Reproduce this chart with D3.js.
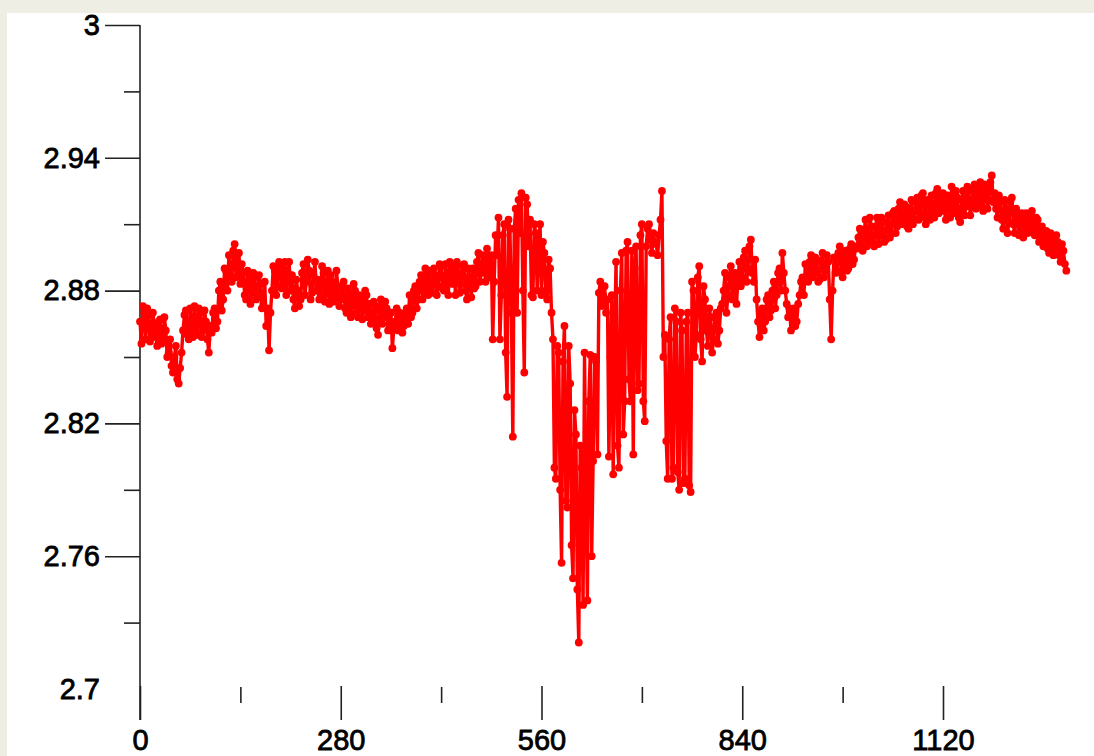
<!DOCTYPE html>
<html>
<head>
<meta charset="utf-8">
<script src="https://cdn.jsdelivr.net/npm/d3@7"></script>
<style>
  html, body { margin: 0; padding: 0; background: #efeee4; }
  svg { display: block; }
  .tick text { font-family: "Liberation Sans", Arial, sans-serif; font-size: 29px; fill: #000; stroke: #000; stroke-width: 0.8px; }
  .tick line { stroke: #222; stroke-width: 1.6px; }
</style>
</head>
<body>
<svg id="chart" width="1094" height="756"></svg>
<script>
// samples fall every 2 data units: evenSamples at x = 0, 4, 8 ... and
// oddSamples at x = 2, 6, 10 ... both
const sampleStep = 4;

const evenSamples = [
  2.866, 2.873, 2.858, 2.869, 2.861, 2.864, 2.855, 2.867, 2.858, 2.862,
  2.852, 2.846, 2.850, 2.840, 2.845, 2.862, 2.871, 2.858, 2.866, 2.873,
  2.860, 2.870, 2.862, 2.866, 2.852, 2.861, 2.872, 2.866, 2.884, 2.876,
  2.889, 2.896, 2.884, 2.901, 2.890, 2.883, 2.888, 2.876, 2.885, 2.879,
  2.886, 2.878, 2.883, 2.874, 2.864, 2.853, 2.880, 2.889, 2.882, 2.891,
  2.884, 2.878, 2.893, 2.887, 2.872, 2.880, 2.876, 2.892, 2.884, 2.889,
  2.879, 2.893, 2.885, 2.878, 2.888, 2.880, 2.874, 2.884, 2.877, 2.882,
  2.876, 2.884, 2.870, 2.879, 2.873, 2.880, 2.868, 2.877, 2.871, 2.878,
  2.874, 2.866, 2.871, 2.860, 2.876, 2.868, 2.872, 2.864, 2.854, 2.866,
  2.862, 2.869, 2.864, 2.872, 2.878, 2.870, 2.882, 2.876, 2.887, 2.880,
  2.884, 2.889, 2.879, 2.887, 2.882, 2.891, 2.880, 2.886, 2.893, 2.883,
  2.878, 2.888, 2.883, 2.892, 2.876, 2.885, 2.890, 2.882, 2.897, 2.888,
  2.892, 2.899, 2.886, 2.858, 2.905, 2.913, 2.878, 2.910, 2.832, 2.908,
  2.814, 2.917, 2.921, 2.924, 2.843, 2.919, 2.912, 2.877, 2.906, 2.900,
  2.878, 2.897, 2.876, 2.890, 2.858, 2.795, 2.852, 2.757, 2.864, 2.782,
  2.838, 2.750, 2.815, 2.721, 2.800, 2.852, 2.740, 2.851, 2.803, 2.848,
  2.879, 2.873, 2.882, 2.876, 2.850, 2.797, 2.893, 2.800, 2.897, 2.830,
  2.902, 2.830, 2.806, 2.900, 2.838, 2.910, 2.821, 2.908, 2.903, 2.906,
  2.901, 2.905, 2.925, 2.860, 2.795, 2.868, 2.800, 2.866, 2.790, 2.862,
  2.795, 2.870, 2.789, 2.880, 2.860, 2.891, 2.848, 2.876, 2.855, 2.868,
  2.858, 2.870, 2.862, 2.874, 2.888, 2.878, 2.891, 2.882, 2.874, 2.893,
  2.886, 2.898, 2.890, 2.903, 2.884, 2.876, 2.859, 2.872, 2.866, 2.878,
  2.871, 2.884, 2.878, 2.890, 2.897, 2.880, 2.868, 2.862, 2.872, 2.866,
  2.878, 2.886, 2.892, 2.884, 2.896, 2.888, 2.894, 2.885, 2.897, 2.889,
  2.893, 2.858, 2.895, 2.889, 2.900, 2.886, 2.898, 2.890, 2.901, 2.894,
  2.899, 2.908, 2.898, 2.912, 2.903, 2.909, 2.900, 2.913, 2.905, 2.911,
  2.903, 2.914, 2.906, 2.916, 2.909, 2.920, 2.911, 2.918, 2.908, 2.921,
  2.912, 2.922, 2.915, 2.924, 2.910, 2.919, 2.923, 2.913, 2.926, 2.917,
  2.924, 2.912, 2.920, 2.927, 2.915, 2.922, 2.911, 2.925, 2.918, 2.926,
  2.918, 2.928, 2.920, 2.929, 2.916, 2.926, 2.921, 2.932, 2.924, 2.913,
  2.920, 2.908, 2.917, 2.911, 2.922, 2.906, 2.914, 2.909, 2.904, 2.915,
  2.908, 2.916, 2.905, 2.912, 2.903, 2.900, 2.907, 2.897, 2.904, 2.899,
  2.902, 2.893, 2.898, 2.889
];

const oddSamples = [
  2.856, 2.870, 2.872, 2.857, 2.870, 2.859, 2.866, 2.856, 2.868, 2.850,
  2.858, 2.843, 2.855, 2.838, 2.852, 2.869, 2.860, 2.872, 2.859, 2.864,
  2.872, 2.859, 2.871, 2.858, 2.864, 2.870, 2.863, 2.880, 2.871, 2.890,
  2.880, 2.887, 2.898, 2.886, 2.897, 2.892, 2.878, 2.889, 2.874, 2.888,
  2.876, 2.887, 2.872, 2.884, 2.872, 2.870, 2.891, 2.878, 2.893, 2.881,
  2.893, 2.888, 2.880, 2.876, 2.885, 2.873, 2.888, 2.878, 2.894, 2.876,
  2.887, 2.880, 2.876, 2.891, 2.875, 2.889, 2.887, 2.875, 2.889, 2.873,
  2.882, 2.872, 2.881, 2.868, 2.883, 2.870, 2.878, 2.867, 2.880, 2.868,
  2.865, 2.875, 2.863, 2.873, 2.865, 2.875, 2.862, 2.870, 2.863, 2.872,
  2.870, 2.861, 2.870, 2.865, 2.868, 2.880, 2.872, 2.884, 2.876, 2.890,
  2.878, 2.882, 2.890, 2.878, 2.892, 2.881, 2.892, 2.878, 2.885, 2.891,
  2.893, 2.879, 2.891, 2.880, 2.890, 2.877, 2.881, 2.893, 2.884, 2.896,
  2.884, 2.890, 2.896, 2.884, 2.896, 2.858, 2.905, 2.852, 2.912, 2.870,
  2.908, 2.870, 2.906, 2.880, 2.922, 2.900, 2.878, 2.910, 2.880, 2.910,
  2.902, 2.880, 2.894, 2.870, 2.800, 2.855, 2.790, 2.848, 2.785, 2.855,
  2.765, 2.826, 2.745, 2.810, 2.738, 2.790, 2.830, 2.760, 2.850, 2.806,
  2.884, 2.878, 2.870, 2.805, 2.878, 2.860, 2.810, 2.880, 2.815, 2.898,
  2.840, 2.898, 2.890, 2.835, 2.905, 2.830, 2.900, 2.910, 2.897, 2.902,
  2.896, 2.912, 2.850, 2.812, 2.858, 2.795, 2.872, 2.798, 2.870, 2.793,
  2.866, 2.792, 2.884, 2.850, 2.886, 2.858, 2.882, 2.862, 2.872, 2.852,
  2.868, 2.856, 2.872, 2.880, 2.870, 2.886, 2.876, 2.888, 2.885, 2.882,
  2.895, 2.884, 2.900, 2.888, 2.894, 2.866, 2.870, 2.862, 2.876, 2.868,
  2.880, 2.872, 2.888, 2.880, 2.888, 2.874, 2.872, 2.868, 2.864, 2.874,
  2.884, 2.878, 2.886, 2.893, 2.886, 2.895, 2.884, 2.893, 2.886, 2.896,
  2.876, 2.880, 2.888, 2.897, 2.888, 2.896, 2.889, 2.899, 2.892, 2.900,
  2.904, 2.900, 2.907, 2.900, 2.913, 2.902, 2.909, 2.901, 2.913, 2.902,
  2.911, 2.904, 2.915, 2.906, 2.917, 2.910, 2.919, 2.909, 2.916, 2.910,
  2.920, 2.912, 2.923, 2.913, 2.921, 2.912, 2.916, 2.924, 2.915, 2.922,
  2.916, 2.923, 2.913, 2.919, 2.925, 2.913, 2.921, 2.914, 2.927, 2.914,
  2.925, 2.917, 2.927, 2.918, 2.928, 2.917, 2.929, 2.920, 2.917, 2.923,
  2.912, 2.921, 2.906, 2.920, 2.910, 2.917, 2.905, 2.915, 2.912, 2.906,
  2.914, 2.906, 2.913, 2.902, 2.909, 2.906, 2.899, 2.906, 2.896, 2.905,
  2.896, 2.901, 2.892
];

const xMajorTicks = [0, 280, 560, 840, 1120];
const xMinorTicks = [140, 420, 700, 980];
const yMajorTicks = [2.7, 2.76, 2.82, 2.88, 2.94, 3];
const yMinorTicks = [2.73, 2.79, 2.85, 2.91, 2.97];

const svg = d3.select('#chart');

// white plotting panel on the page background
svg.append('rect')
  .attr('x', 7).attr('y', 13)
  .attr('width', 1094 - 7).attr('height', 756 - 13)
  .attr('fill', '#ffffff');

const x = d3.scaleLinear().domain([0, 1120]).range([140, 943]);
const y = d3.scaleLinear().domain([2.7, 3]).range([689, 25]);
const axisBottomY = 720;

// y axis
const yAxis = svg.append('g')
  .attr('transform', 'translate(140,0)')
  .call(d3.axisLeft(y).tickValues(yMajorTicks).tickSize(35).tickPadding(5).tickFormat(d3.format('~g')));
yAxis.select('.domain').remove();
yAxis.selectAll('.tick').filter((d) => d === 2.7).select('line').remove();

svg.append('g')
  .attr('transform', 'translate(140,0)')
  .call(d3.axisLeft(y).tickValues(yMinorTicks).tickSize(16).tickFormat(''))
  .call((g) => g.select('.domain').remove());

svg.append('line')
  .attr('x1', 140).attr('x2', 140)
  .attr('y1', y(3)).attr('y2', axisBottomY)
  .attr('stroke', '#222').attr('stroke-width', 1.6);

// x axis: ticks stand up from the baseline, no axis line
svg.append('g')
  .attr('transform', `translate(0,${axisBottomY})`)
  .call(d3.axisBottom(x).tickValues(xMajorTicks).tickSize(-34).tickPadding(9).tickFormat(d3.format('d')))
  .call((g) => g.select('.domain').remove());

svg.append('g')
  .attr('transform', `translate(0,${axisBottomY - 17})`)
  .call(d3.axisBottom(x).tickValues(xMinorTicks).tickSize(-16).tickFormat(''))
  .call((g) => g.select('.domain').remove());

// series: merge the two sample sets in x order
const points = [];
evenSamples.forEach((v, i) => {
  points.push({ x: i * sampleStep, y: v });
  if (i < oddSamples.length) points.push({ x: i * sampleStep + sampleStep / 2, y: oddSamples[i] });
});

svg.append('path')
  .datum(points)
  .attr('fill', 'none')
  .attr('stroke', '#ff0000')
  .attr('stroke-width', 3.4)
  .attr('stroke-linejoin', 'round')
  .attr('d', d3.line().x((d) => x(d.x)).y((d) => y(d.y)));

svg.append('g')
  .selectAll('circle')
  .data(points)
  .join('circle')
  .attr('cx', (d) => x(d.x))
  .attr('cy', (d) => y(d.y))
  .attr('r', 3.9)
  .attr('fill', '#ff0000');
</script>
</body>
</html>
